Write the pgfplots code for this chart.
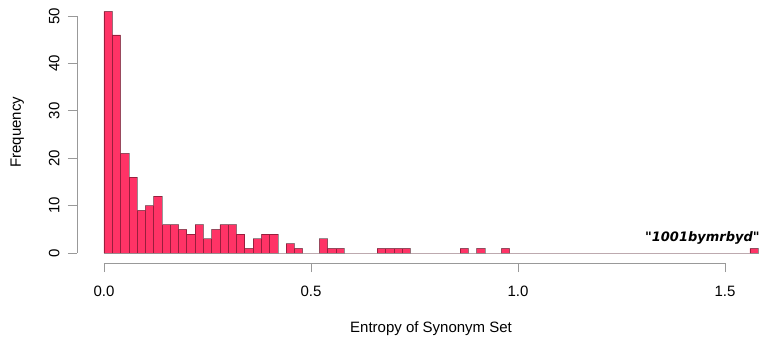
\documentclass[border=0pt]{standalone}
\usepackage{pgfplots}
\pgfplotsset{compat=1.18}
\usepackage{pgfplotstable}
\usepackage{fontspec}
\setmainfont{Liberation Sans}
\newfontfamily\dvfont{DejaVu Sans}
\definecolor{barc}{HTML}{FF3366}
\pgfplotstableread{
x y
0.00 51
0.02 46
0.04 21
0.06 16
0.08 9
0.10 10
0.12 12
0.14 6
0.16 6
0.18 5
0.20 4
0.22 6
0.24 3
0.26 5
0.28 6
0.30 6
0.32 4
0.34 1
0.36 3
0.38 4
0.40 4
0.42 0
0.44 2
0.46 1
0.48 0
0.50 0
0.52 3
0.54 1
0.56 1
0.58 0
0.60 0
0.62 0
0.64 0
0.66 1
0.68 1
0.70 1
0.72 1
0.74 0
0.76 0
0.78 0
0.80 0
0.82 0
0.84 0
0.86 1
0.88 0
0.90 1
0.92 0
0.94 0
0.96 1
0.98 0
1.00 0
1.02 0
1.04 0
1.06 0
1.08 0
1.10 0
1.12 0
1.14 0
1.16 0
1.18 0
1.20 0
1.22 0
1.24 0
1.26 0
1.28 0
1.30 0
1.32 0
1.34 0
1.36 0
1.38 0
1.40 0
1.42 0
1.44 0
1.46 0
1.48 0
1.50 0
1.52 0
1.54 0
1.56 1
1.58 1
}\histdata
\begin{document}
\begin{tikzpicture}
\begin{axis}[
  scale only axis,
  width=689.4pt, height=263.1pt,
  xmin=-0.0652, xmax=1.6,
  ymin=-2.11, ymax=53.4,
  axis line style={draw=none},
  clip=false,
  tick align=outside,
  major tick length=9pt,
  tick style={gray!80, line width=0.8pt},
  xtick={0,0.5,1,1.5},
  xticklabels={0.0,0.5,1.0,1.5},
  ytick={0,10,20,30,40,50},
  yticklabels={0,10,20,30,40,50},
  xtick pos=bottom, ytick pos=left,
  minor tick num=0,
  typeset ticklabels with strut=false,
  every tick label/.append style={font=\fontsize{15}{15}\selectfont, inner sep=0pt, outer sep=0pt},
  xticklabel style={anchor=north},
  yticklabel style={rotate=90, anchor=south},
  xticklabel shift=14pt,
  yticklabel shift=4pt,
]
\addplot[ybar interval, fill=barc, draw=black, draw opacity=0.4, line width=0.6pt] table[x=x,y=y] {\histdata};
\draw[gray!80, line width=0.8pt] (axis cs:0,-2.11) -- (axis cs:1.5,-2.11);
\draw[gray!80, line width=0.8pt] (axis cs:-0.0652,0) -- (axis cs:-0.0652,50);
\node[anchor=base, font=\dvfont\bfseries\itshape\fontsize{13}{13}\selectfont] at (axis cs:1.4454,2.53) {"1001bymrbyd"};
\node[anchor=base, font=\fontsize{15}{15}\selectfont] at ([yshift=-69pt]axis cs:0.79,-2.11) {Entropy of Synonym Set};
\node[anchor=base, rotate=90, font=\fontsize{15}{15}\selectfont] at ([xshift=-56pt]axis cs:-0.0652,25.5) {Frequency};
\end{axis}
\pgfresetboundingbox
\path[use as bounding box] ([shift={(-77pt,-77pt)}]current axis.south west) rectangle ([shift={(691pt,263pt)}]current axis.south west);
\end{tikzpicture}
\end{document}
